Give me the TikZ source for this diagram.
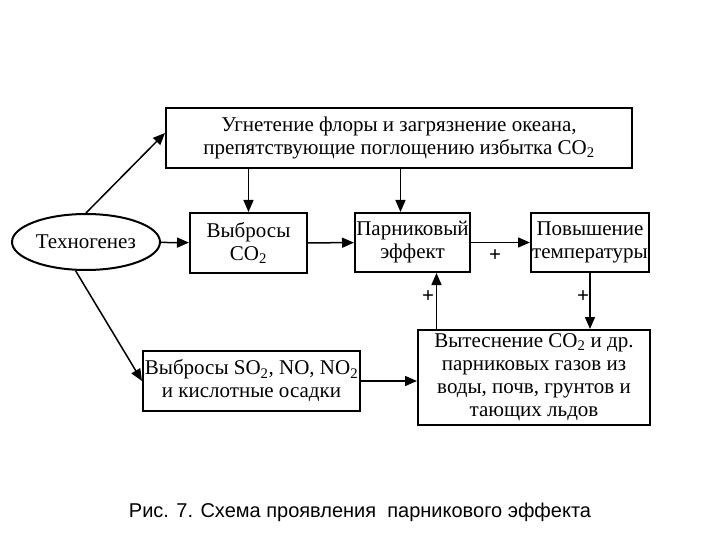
\documentclass[tikz,border=0pt]{standalone}
\usepackage{fontspec}
\setmainfont{Liberation Serif}
\newfontfamily\capfont{Liberation Sans}
\usetikzlibrary{positioning,arrows.meta,shapes.geometric}

\begin{document}
\begin{tikzpicture}[
  x=1pt, y=-1pt,
  box/.style={draw, line width=2pt, fill=white, align=center, inner sep=1pt, font=\fontsize{21}{23}\selectfont},
  oval/.style={draw, ellipse, line width=2pt, minimum width=148pt, minimum height=56pt, inner sep=1pt, font=\fontsize{21}{23}\selectfont},
  plus/.style={font=\bfseries\fontsize{21}{21}\selectfont, inner sep=0pt},
  arrow/.style={-{Triangle[length=12pt, width=10pt]}, line width=1.5pt}
]
\useasboundingbox (0,0) rectangle (720,540);
\node[oval] (tech) at (86,242) {Техногенез};
\node[box, minimum width=466pt, minimum height=60pt] (ugnet) at (399,138) {Угнетение флоры и загрязнение океана,\\препятствующие поглощению избытка CO\textsubscript{2}};
\node[box, minimum width=117pt, minimum height=60pt] (co2) at (248.5,243) {Выбросы\\CO\textsubscript{2}};
\node[box, minimum width=115pt, minimum height=59pt] (parnik) at (412.5,242.5) {Парниковый\\эффект};
\node[box, minimum width=118pt, minimum height=59pt] (temp) at (590,242.5) {Повышение\\температуры};
\node[box, minimum width=217pt, minimum height=60pt] (so2) at (251.5,381) {Выбросы SO\textsubscript{2}, NO, NO\textsubscript{2}\\и кислотные осадки};
\node[box, minimum width=232pt, minimum height=95pt] (vyt) at (534,377.5) {Вытеснение CO\textsubscript{2} и др.\\парниковых газов из\\воды, почв, грунтов и\\тающих льдов};
% arrows
\draw[arrow] (tech.north) -- ([yshift=5]ugnet.west);
\draw[arrow] (tech) -- (co2);
\draw[arrow] (tech.250) -- (so2.west);
\draw[arrow] (ugnet.south -| co2) -- (co2);
\draw[arrow] ([xshift=-12]parnik.north |- ugnet.south) -- ([xshift=-12]parnik.north);
\draw[arrow] (co2) -- (parnik);
\draw[arrow] (parnik) -- (temp);
\draw[arrow] (temp) -- (temp |- vyt.north);
\draw[arrow] ([xshift=24]parnik.south |- vyt.north) -- ([xshift=24]parnik.south);
\draw[arrow] (so2) -- (so2 -| vyt.west);
% signs
\node[plus] (p1) at (495,256) {+};
\node[plus] (p2) at (583,297) {+};
\node[plus] (p3) at (428,297) {+};
\node[font=\capfont\fontsize{20}{22}\selectfont] (cap) at (360,512) {Рис. 7. Схема проявления\ \ парникового эффекта};
\end{tikzpicture}
\end{document}
